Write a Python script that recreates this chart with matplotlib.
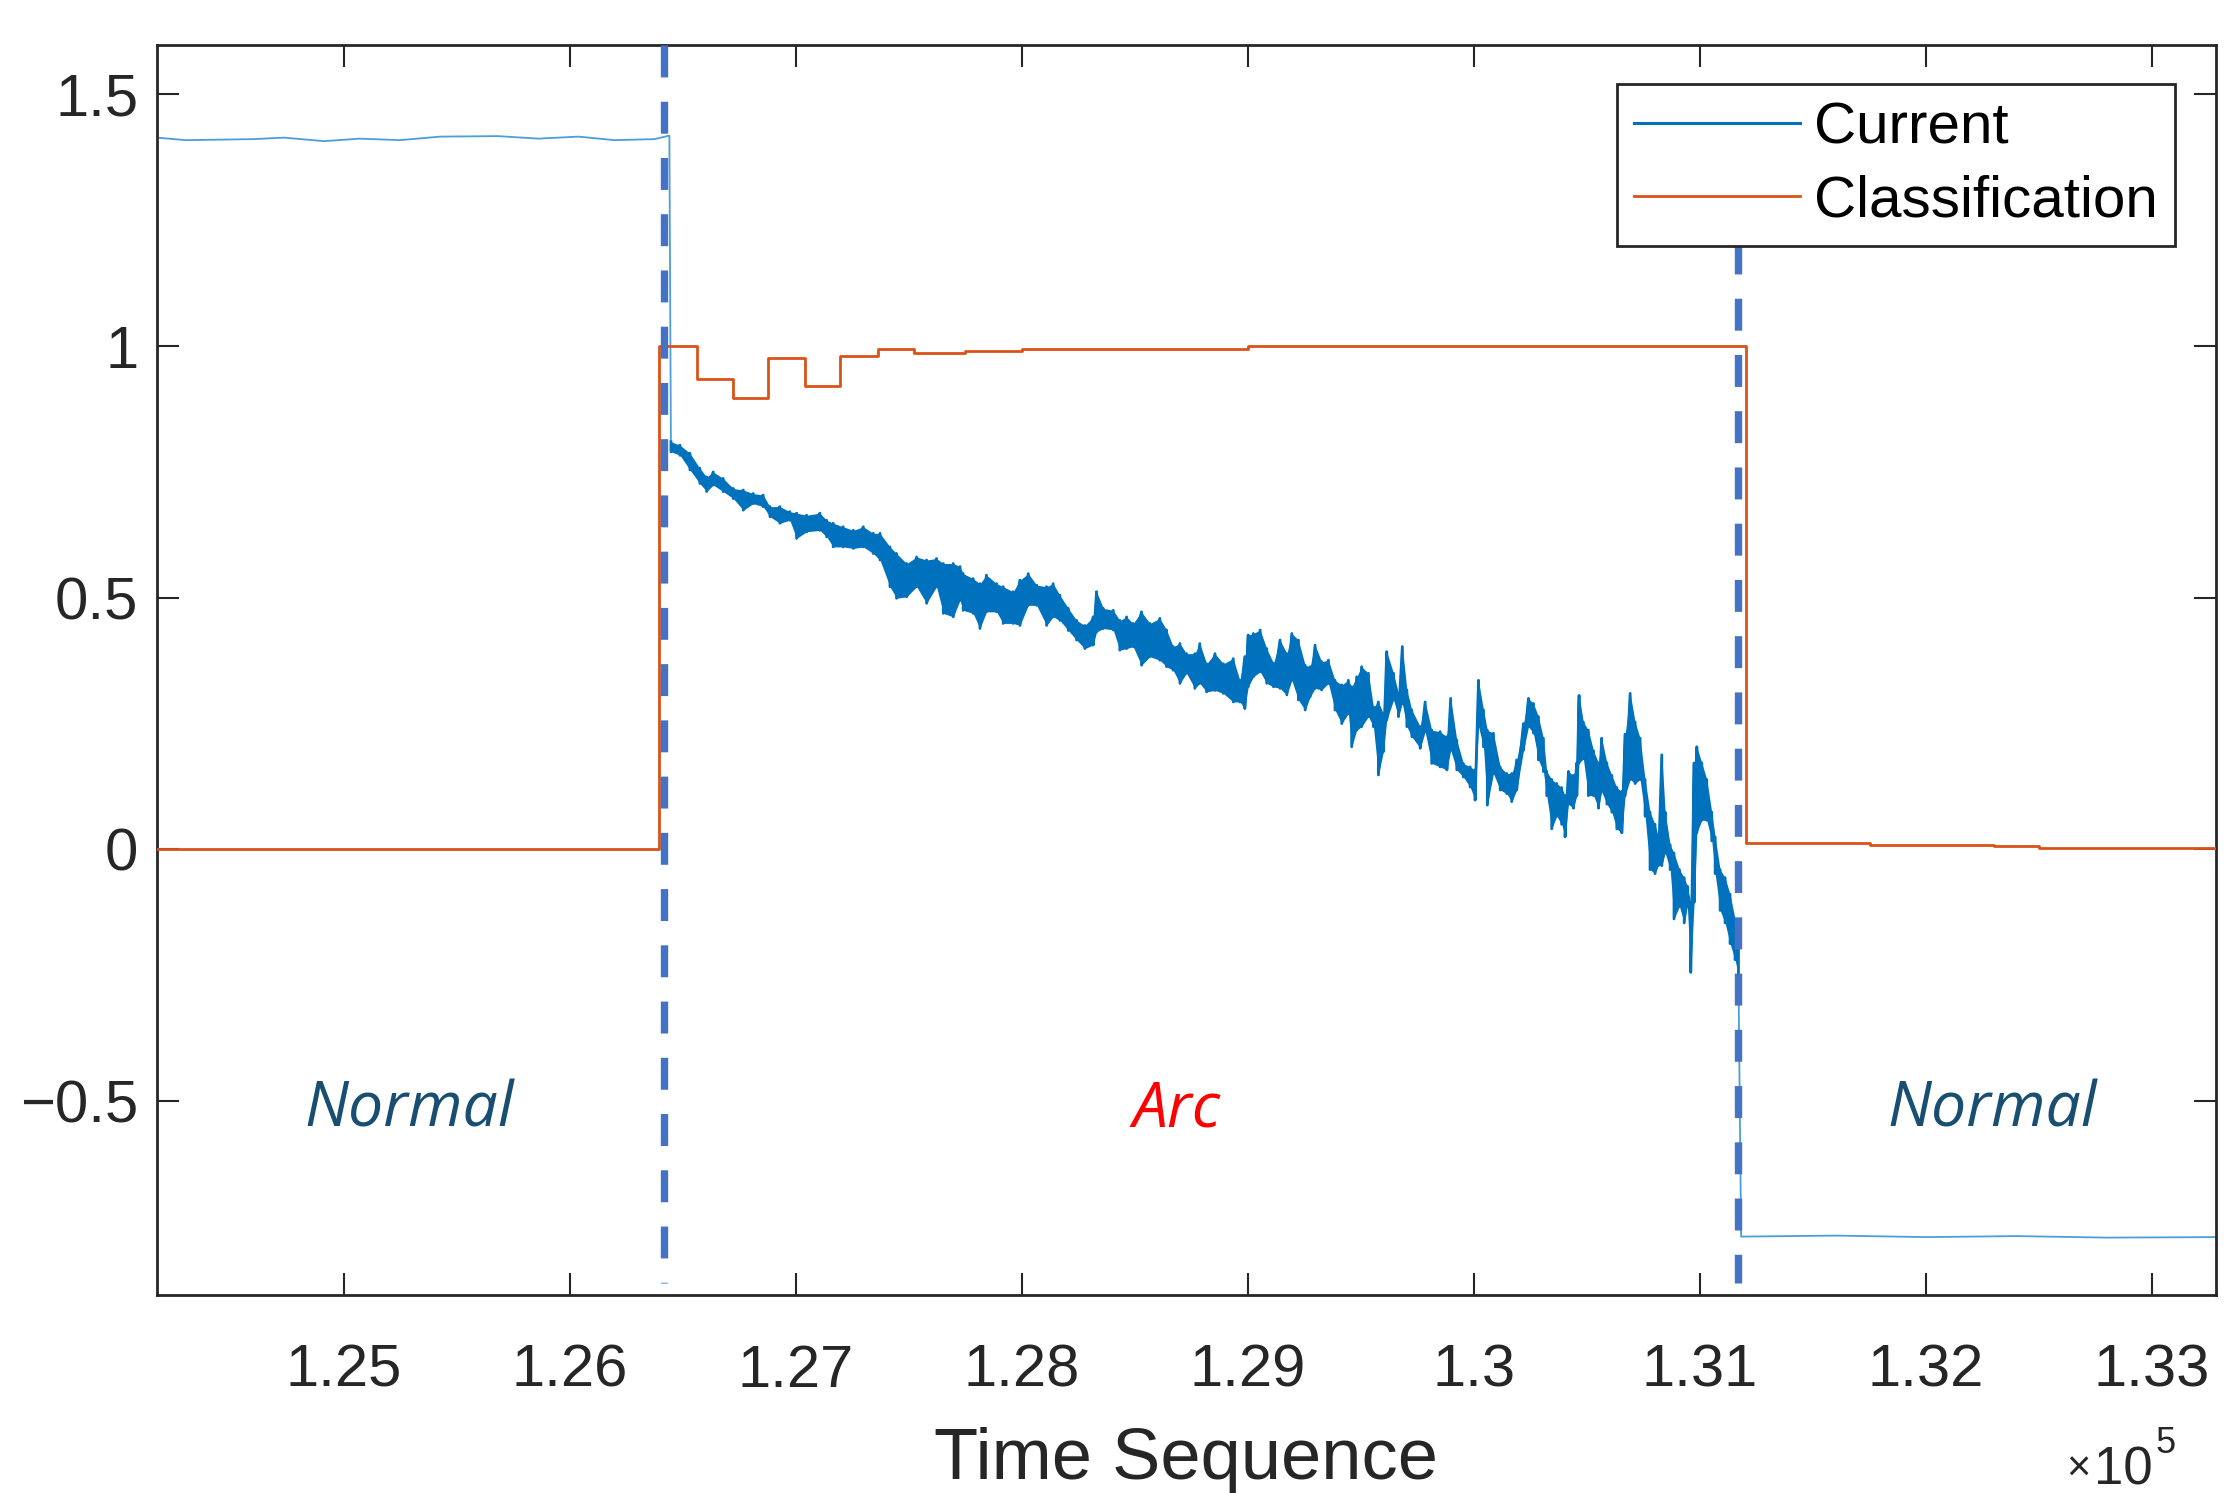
import numpy as np
import matplotlib
matplotlib.use("Agg")
import matplotlib.pyplot as plt
from matplotlib.ticker import FuncFormatter

# current before the arc (flat, normal level)
pre_t = [124173, 124300, 124596, 124734, 124912, 125070, 125248, 125426,
         125682, 125860, 126038, 126196, 126374, 126440]
pre_v = [1.414, 1.409, 1.411, 1.414, 1.407, 1.412, 1.409, 1.416,
         1.417, 1.412, 1.416, 1.409, 1.411, 1.418]

# arc region, upper / lower edge of the noisy band
arc_t = [126447, 126487, 126531, 126575, 126605, 126634, 126678, 126723, 126767, 126811,
         126855, 126885, 126929, 126973, 127003, 127047, 127106, 127136, 127165, 127209,
         127254, 127298, 127342, 127372, 127416, 127445, 127490, 127534, 127578, 127622,
         127652, 127696, 127726, 127740, 127784, 127814, 127843, 127888, 127917, 127961,
         127991, 128028, 128065, 128109, 128138, 128168, 128205, 128242, 128278, 128315,
         128330, 128360, 128404, 128433, 128463, 128492, 128529, 128566, 128610, 128640,
         128669, 128699, 128728, 128765, 128787, 128817, 128854, 128891, 128935, 128964,
         128986, 129001, 129024, 129054, 129083, 129113, 129142, 129172, 129194, 129223,
         129253, 129275, 129297, 129326, 129356, 129385, 129415, 129444, 129459, 129481,
         129503, 129533, 129555, 129577, 129599, 129614, 129644, 129666, 129683, 129703,
         129725, 129762, 129784, 129813, 129850, 129880, 129897, 129924, 129953, 129983,
         130005, 130020, 130042, 130059, 130086, 130116, 130145, 130167, 130189, 130219,
         130241, 130263, 130285, 130307, 130322, 130344, 130366, 130388, 130403, 130418,
         130440, 130455, 130465, 130484, 130506, 130529, 130551, 130565, 130588, 130610,
         130632, 130654, 130669, 130691, 130713, 130735, 130757, 130779, 130801, 130816,
         130831, 130846, 130868, 130885, 130909, 130930, 130944, 130959, 130974, 130986,
         131008, 131030, 131052, 131067, 131089, 131111, 131133, 131155, 131170]
arc_hi = [0.810, 0.803, 0.787, 0.757, 0.740, 0.750, 0.737, 0.717, 0.714, 0.707,
          0.704, 0.681, 0.681, 0.671, 0.668, 0.664, 0.668, 0.654, 0.648, 0.641,
          0.634, 0.641, 0.628, 0.628, 0.601, 0.588, 0.568, 0.581, 0.575, 0.578,
          0.568, 0.568, 0.562, 0.548, 0.538, 0.528, 0.545, 0.528, 0.522, 0.512,
          0.535, 0.548, 0.525, 0.522, 0.528, 0.505, 0.479, 0.455, 0.445, 0.462,
          0.512, 0.479, 0.475, 0.455, 0.462, 0.449, 0.472, 0.449, 0.459, 0.436,
          0.403, 0.409, 0.389, 0.389, 0.409, 0.369, 0.389, 0.369, 0.379, 0.336,
          0.383, 0.426, 0.429, 0.436, 0.399, 0.370, 0.416, 0.389, 0.429, 0.416,
          0.366, 0.363, 0.406, 0.373, 0.376, 0.336, 0.327, 0.336, 0.323, 0.343,
          0.363, 0.350, 0.283, 0.293, 0.270, 0.393, 0.350, 0.310, 0.403, 0.317,
          0.277, 0.244, 0.293, 0.237, 0.234, 0.224, 0.300, 0.217, 0.171, 0.164,
          0.158, 0.336, 0.277, 0.237, 0.231, 0.164, 0.151, 0.151, 0.178, 0.250,
          0.300, 0.290, 0.264, 0.221, 0.155, 0.139, 0.131, 0.123, 0.107, 0.155,
          0.147, 0.172, 0.306, 0.253, 0.237, 0.196, 0.172, 0.221, 0.172, 0.147,
          0.123, 0.115, 0.229, 0.310, 0.253, 0.221, 0.139, 0.074, 0.050, 0.025,
          0.188, 0.074, 0.009, -0.007, -0.040, -0.056, -0.073, -0.105, 0.172, 0.204,
          0.172, 0.139, 0.074, 0.025, -0.040, -0.056, -0.089, -0.138, -0.187]
arc_lo = [0.790, 0.783, 0.754, 0.727, 0.711, 0.724, 0.711, 0.697, 0.674, 0.687,
          0.681, 0.661, 0.648, 0.654, 0.618, 0.631, 0.634, 0.621, 0.601, 0.601,
          0.598, 0.601, 0.588, 0.575, 0.522, 0.499, 0.502, 0.522, 0.489, 0.522,
          0.469, 0.462, 0.495, 0.475, 0.469, 0.439, 0.472, 0.472, 0.449, 0.449,
          0.445, 0.485, 0.485, 0.445, 0.462, 0.455, 0.435, 0.416, 0.399, 0.406,
          0.432, 0.439, 0.436, 0.396, 0.399, 0.403, 0.366, 0.383, 0.376, 0.363,
          0.356, 0.330, 0.350, 0.320, 0.330, 0.313, 0.316, 0.310, 0.293, 0.293,
          0.280, 0.323, 0.343, 0.353, 0.330, 0.323, 0.320, 0.307, 0.336, 0.297,
          0.277, 0.303, 0.320, 0.317, 0.330, 0.277, 0.250, 0.270, 0.204, 0.237,
          0.244, 0.264, 0.244, 0.148, 0.194, 0.257, 0.297, 0.264, 0.290, 0.244,
          0.224, 0.201, 0.234, 0.171, 0.164, 0.158, 0.197, 0.158, 0.144, 0.124,
          0.098, 0.244, 0.204, 0.088, 0.151, 0.118, 0.111, 0.095, 0.118, 0.197,
          0.244, 0.231, 0.178, 0.155, 0.107, 0.041, 0.066, 0.050, 0.025, 0.090,
          0.082, 0.107, 0.172, 0.180, 0.107, 0.107, 0.082, 0.115, 0.090, 0.074,
          0.041, 0.033, 0.107, 0.139, 0.131, 0.139, 0.066, -0.040, -0.048, -0.032,
          -0.032, -0.007, -0.040, -0.138, -0.113, -0.146, -0.113, -0.244, -0.105, 0.033,
          0.058, 0.058, 0.017, -0.048, -0.121, -0.146, -0.187, -0.219, -0.250]

# current after the arc
post_t = [131182, 131600, 132000, 132400, 132800, 133283]
post_v = [-0.769, -0.767, -0.770, -0.768, -0.771, -0.770]

# classification output (step)
cls_t = [124173, 126394, 126561, 126721, 126876, 127040, 127194, 127363, 127522,
         127750, 128000, 129000, 131204, 131750, 132300, 132500, 133283]
cls_v = [0, 1.0, 0.934, 0.897, 0.976, 0.920, 0.980, 0.994, 0.986,
         0.990, 0.995, 1.0, 0.012, 0.008, 0.006, 0.002, 0.002]

arc_start, arc_end = 126416, 131170
xticks = [125000, 126000, 127000, 128000, 129000, 130000, 131000, 132000, 133000]
yticks = [-0.5, 0, 0.5, 1, 1.5]
regions = [("Normal", 125288, "#174E72"), ("Arc", 128686, "#FF0000"), ("Normal", 132292, "#174E72")]

band_t = np.repeat(arc_t, 2)
band_v = np.column_stack([arc_hi, arc_lo]).ravel()
cur_t = np.concatenate([pre_t, band_t, post_t])
cur_v = np.concatenate([pre_v, band_v, post_v])

plt.rcParams['font.family'] = ['Liberation Sans', 'DejaVu Sans']
axc = '#262626'
blue = '#0072BD'

fig = plt.figure(figsize=(22.24, 14.93), dpi=100)
ax = fig.add_axes([0.07059, 0.13262, 0.92581, 0.83724])

# flat parts look thin and light in the original, the arc part is a dense band
ax.plot(cur_t, cur_v, color='#4C9ED6', lw=1.3, zorder=2)
ax.fill_between(arc_t, arc_lo, arc_hi, color=blue, lw=0, zorder=2)
ax.plot(band_t, band_v, color=blue, lw=2.0, zorder=2)
ax.plot([], [], color=blue, lw=2.2, label='Current')
ax.step(cls_t, cls_v, where='post', color='#D95319', lw=2.0, label='Classification', zorder=3)

ax.plot([arc_start, arc_start], [1.598, -0.862], color='#4472C4', lw=5.3,
        dashes=(4.34, 3.3), zorder=4)
ax.plot([arc_end, arc_end], [1.207, -0.862], color='#4472C4', lw=5.3,
        dashes=(4.34, 3.3), zorder=4)

for name, xpos, col in regions:
    ax.text(xpos, -0.551, name, color=col, fontsize=45, style='italic',
            family=['Open Sans', 'DejaVu Sans'], ha='center', va='baseline')

ax.set_xlim(124173, 133283)
ax.set_ylim(-0.885, 1.598)
ax.set_xticks(xticks)
ax.set_yticks(yticks)
ax.xaxis.set_major_formatter(FuncFormatter(lambda v, _: f'{v / 1e5:g}'))
ax.yaxis.set_major_formatter(FuncFormatter(lambda v, _: f'{v:g}'.replace('-', '\u2212')))

for s in ax.spines.values():
    s.set_color(axc)
    s.set_linewidth(2)
ax.tick_params(direction='in', length=16, width=1.5, colors=axc, labelsize=43,
               top=True, right=True)
ax.tick_params(axis='x', pad=35)
ax.tick_params(axis='y', pad=13.5)

ax.set_xlabel('Time Sequence', fontsize=52, color=axc)
ax.xaxis.label.set_va('baseline')
ax.xaxis.set_label_coords(0.5, -0.1472)

# exponent label of the x axis
fig.text(0.9290, 0.008, '\u00d7', fontsize=30, color=axc, va='baseline')
fig.text(0.9416, 0.006, '10', fontsize=38, color=axc, va='baseline')
fig.text(0.9690, 0.0265, '5', fontsize=26, color=axc, va='baseline')

leg = ax.legend(loc='upper right', bbox_to_anchor=(0.97797, 0.94374),
                bbox_transform=fig.transFigure, borderaxespad=0, fontsize=42,
                handlelength=2.84, handletextpad=0.24, labelspacing=0.32,
                borderpad=0.3, fancybox=False, framealpha=1)
leg.get_frame().set_edgecolor(axc)
leg.get_frame().set_linewidth(2)
leg.set_zorder(5)

fig.savefig('out.png', dpi=100)
